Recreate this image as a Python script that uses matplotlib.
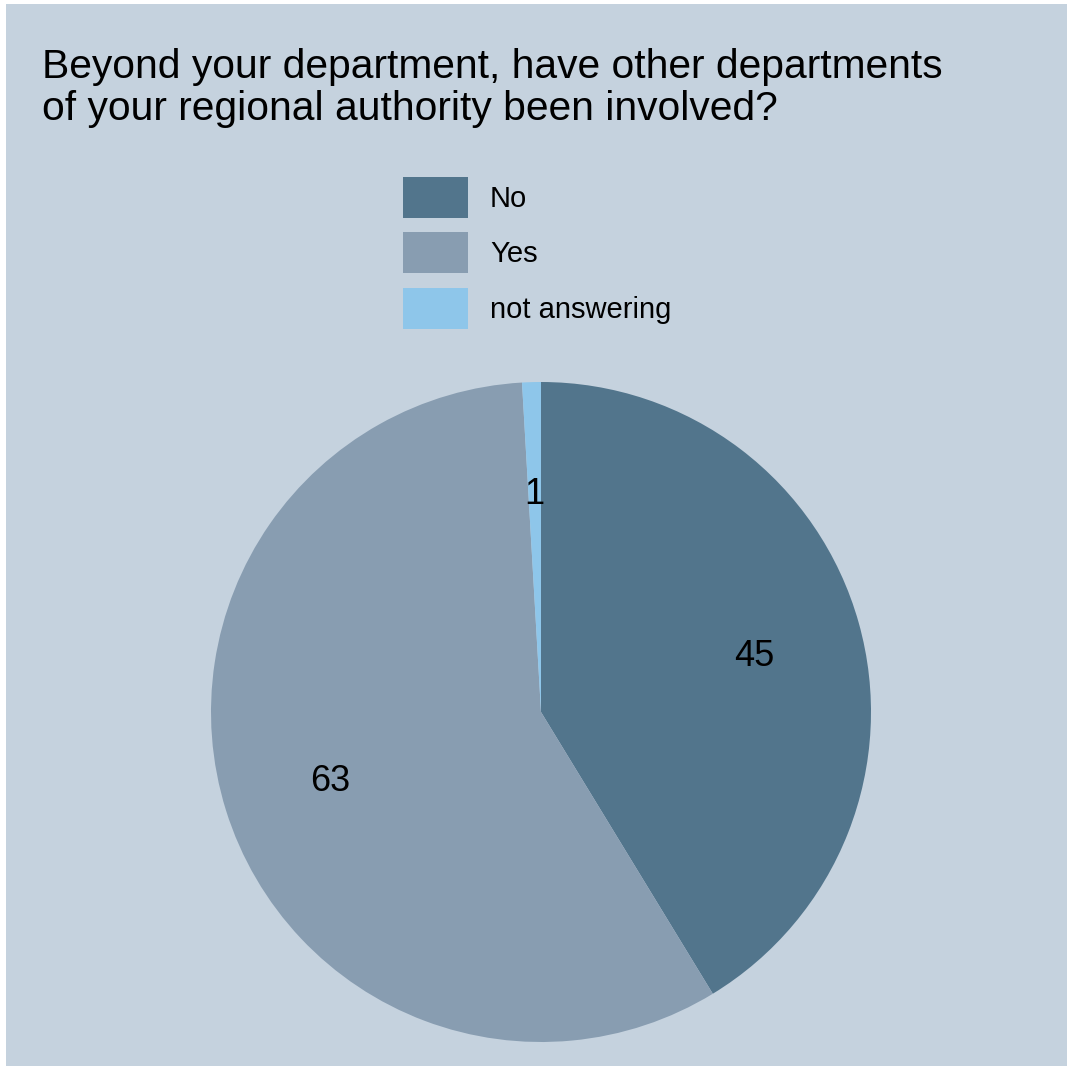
import matplotlib.pyplot as plt
from matplotlib.patches import Rectangle

plt.rcParams['font.family'] = ['Liberation Sans', 'DejaVu Sans']

categories = ["No", "Yes", "not answering"]
values = [45, 63, 1]
colors = ["#52758C", "#889DB1", "#8EC6EA"]
title = "Beyond your department, have other departments\nof your regional authority been involved?"

W, H = 1070, 1069
fig = plt.figure(figsize=(W / 100, H / 100), dpi=100, facecolor="white")

# panel background
fig.patches.append(Rectangle((6 / W, 3 / H), 1061 / W, 1062 / H, transform=fig.transFigure,
                             facecolor="#C5D2DE", edgecolor="none", zorder=-10))

# pie axes: centre (541, 712) px, radius 330 px
cx, cy, r = 541, 712, 330
ax = fig.add_axes([(cx - r) / W, (H - cy - r) / H, 2 * r / W, 2 * r / H])
ax.set_zorder(5)
ax.set_facecolor("none")
wedges, texts = ax.pie(values, labels=[str(v) for v in values], colors=colors,
                       startangle=90, counterclock=False, labeldistance=0.67,
                       wedgeprops=dict(edgecolor="none"),
                       textprops=dict(fontsize=26, color="black", ha="center", va="center_baseline"))
ax.set_xlim(-1, 1)
ax.set_ylim(-1, 1)
ax.set_aspect("equal")
ax.axis("off")

fig.text(42 / W, 1 - 48 / H, title, fontsize=29.3, va="top", ha="left", linespacing=1.12)

fig.legend(wedges, categories, loc="upper left", bbox_to_anchor=(403 / W, 1 - 177 / H),
           frameon=False, fontsize=21, handlelength=2.23, handleheight=1.78,
           handletextpad=0.75, labelspacing=0.5, borderpad=0, borderaxespad=0)

fig.savefig("out.png", dpi=100, facecolor="white")
